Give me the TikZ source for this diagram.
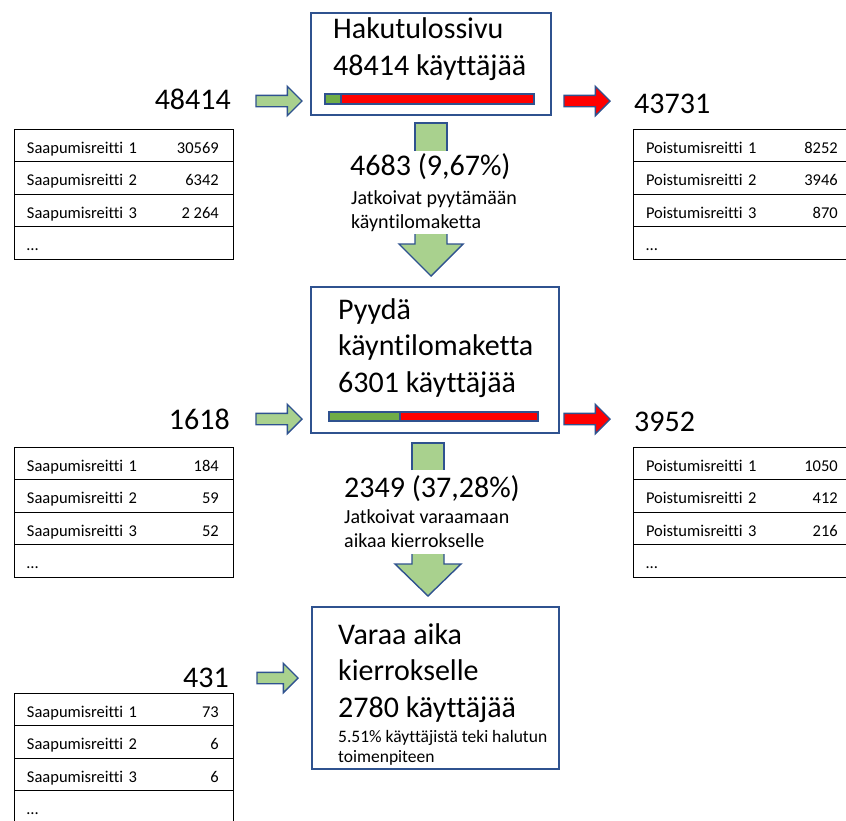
\documentclass[tikz,border=0pt]{standalone}
\usepackage{fontspec}
\setmainfont{Carlito}[Ligatures = NoCommon]
\usetikzlibrary{positioning,shapes.arrows}

\definecolor{reuna}{HTML}{2F528F}
\definecolor{vaaleavihrea}{HTML}{A9D18E}
\definecolor{palkkivihrea}{HTML}{70AD47}
\definecolor{punainen}{HTML}{FF0000}

\tikzset{
    vaihe/.style = {draw = reuna, line width = 1.5pt, anchor = north west, inner sep = 0pt, outer sep = 0pt},
    iso/.style = {font = \fontsize{30}{36.5}\selectfont, inner sep = 0pt, align = left},
    pieni/.style = {font = \fontsize{20}{23.5}\selectfont, inner sep = 0pt, align = left},
    pienempi/.style = {font = \fontsize{17.5}{20}\selectfont, inner sep = 0pt, align = left},
    rivi/.style = {draw, line width = 1pt, outer sep = 0pt, inner xsep = 13pt, inner ysep = 0pt,
        text width = 193pt, minimum height = 32.5pt, text height = 19pt, text depth = 3.5pt,
        align = left, font = \fontsize{16.5}{20}\selectfont},
    arvo/.style = {anchor = base east, inner sep = 0pt, font = \fontsize{16.5}{20}\selectfont},
    tulo/.style = {single arrow, draw = reuna, fill = vaaleavihrea, line width = 1.4pt,
        minimum height = 46pt, inner xsep = 0pt, inner ysep = 5pt,
        single arrow head extend = 9pt, anchor = tip, outer sep = 0pt},
    poistuma/.style = {tulo, fill = punainen},
    nuoli/.style = {draw = reuna, fill = vaaleavihrea, line width = 1.4pt},
    palkki/.style = {draw = reuna, line width = 1.2pt},
}

% reittitaulukko: nimi, vasen yläkulma, otsikko, kolme arvoa
\newcommand{\reitit}[6]{%
    \node [rivi, anchor = north west] (#1-1) at (#2) {#3 1};
    \node [rivi, below = 0pt of #1-1] (#1-2) {#3 2};
    \node [rivi, below = 0pt of #1-2] (#1-3) {#3 3};
    \node [rivi, below = 0pt of #1-3] (#1-4) {…};
    \node [arvo, xshift = -14pt] (#1-1a) at (#1-1.base east) {#4};
    \node [arvo, xshift = -14pt] (#1-2a) at (#1-2.base east) {#5};
    \node [arvo, xshift = -14pt] (#1-3a) at (#1-3.base east) {#6};
}

\begin{document}
\begin{tikzpicture}[x = 1pt, y = -1pt]
    \useasboundingbox (0,0) rectangle (846,820);

    % Hakutulossivu
    \node [vaihe, minimum width = 240pt, minimum height = 102pt] (haku) at (311,13) {};
    \node [iso, anchor = base west] (haku-teksti) at (333,75) {Hakutulossivu\\48414 käyttäjää};
    \filldraw [palkki, fill = punainen] (325,94) rectangle (534,104);
    \filldraw [palkki, fill = palkkivihrea] (325,94) rectangle (341,104);

    \node [tulo] (tulo1) at (302,101) {};
    \node [poistuma] (poistuma1) at (610,101) {};
    \node [iso, anchor = base east] (tulo1-luku) at (231,109) {48414};
    \node [iso, anchor = base west] (poistuma1-luku) at (634,113) {43731};
    \reitit{saapuminen1}{14,129}{Saapumisreitti}{30569}{6342}{2 264}
    \reitit{poistuminen1}{633,129}{Poistumisreitti}{8252}{3946}{870}

    % siirtyma 1
    \coordinate (alku1) at (431,123);
    \coordinate (karki1) at (431,276);
    \filldraw [nuoli] (alku1) ++(-16,28) |- ++(32,-28) -- ++(0,28);
    \node [iso, anchor = base west] (siirto1-luku) at (350,175) {4683 (9,67\%)};
    \node [pieni, anchor = base west] (siirto1-selite) at (351,228) {Jatkoivat pyytämään\\käyntilomaketta};
    \filldraw [nuoli] (karki1) ++(-16,-42) -- ++(0,10) -- ++(-16,0) -- (karki1)
        -- ++(32,-32) -- ++(-16,0) -- ++(0,-10);

    % Pyyda kayntilomaketta
    \node [vaihe, minimum width = 248pt, minimum height = 146pt] (pyynto) at (311,287) {};
    \node [iso, anchor = base west] (pyynto-teksti) at (338,392) {Pyydä\\käyntilomaketta\\6301 käyttäjää};
    \filldraw [palkki, fill = punainen] (329,412) rectangle (538,421);
    \filldraw [palkki, fill = palkkivihrea] (329,412) rectangle (400,421);

    \node [tulo] (tulo2) at (302,419) {};
    \node [poistuma] (poistuma2) at (610,419) {};
    \node [iso, anchor = base east] (tulo2-luku) at (230,429) {1618};
    \node [iso, anchor = base west] (poistuma2-luku) at (634,431) {3952};
    \reitit{saapuminen2}{14,447}{Saapumisreitti}{184}{59}{52}
    \reitit{poistuminen2}{633,447}{Poistumisreitti}{1050}{412}{216}

    % siirtyma 2
    \coordinate (alku2) at (428,443);
    \coordinate (karki2) at (428,596);
    \filldraw [nuoli] (alku2) ++(-16,27) |- ++(32,-27) -- ++(0,27);
    \node [iso, anchor = base west] (siirto2-luku) at (344,497) {2349 (37,28\%)};
    \node [pieni, anchor = base west] (siirto2-selite) at (344,547) {Jatkoivat varaamaan\\aikaa kierrokselle};
    \filldraw [nuoli] (karki2) ++(-16,-42) -- ++(0,10) -- ++(-17,0) -- (karki2)
        -- ++(33,-32) -- ++(-17,0) -- ++(0,-10);

    % Varaa aika kierrokselle
    \node [vaihe, minimum width = 247pt, minimum height = 162pt] (varaus) at (312,607) {};
    \node [iso, anchor = base west] (varaus-teksti) at (338,717) {Varaa aika\\kierrokselle\\2780 käyttäjää};
    \node [pienempi, anchor = base west] (varaus-osuus) at (338,762) {5.51\% käyttäjistä teki halutun\\toimenpiteen};

    \node [tulo, minimum height = 41pt] (tulo3) at (298,678) {};
    \node [iso, anchor = base east] (tulo3-luku) at (229,687) {431};
    \reitit{saapuminen3}{14,693}{Saapumisreitti}{73}{6}{6}
\end{tikzpicture}
\end{document}
